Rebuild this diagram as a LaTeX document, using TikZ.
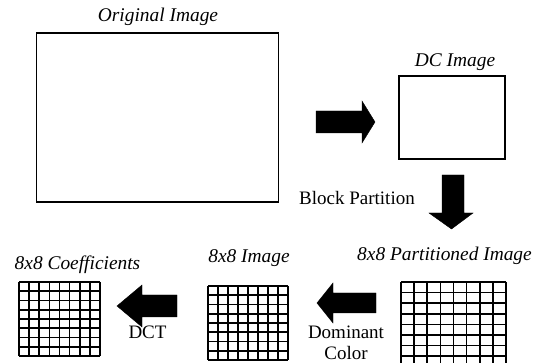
\documentclass[tikz,border=0pt]{standalone}
\usepackage{fontspec}
\setmainfont{Liberation Serif}
\usetikzlibrary{calc}
\begin{document}
\begin{tikzpicture}[x=1pt,y=-1pt,
  lbl/.style={font=\fontsize{19.4}{22}\selectfont\itshape, inner sep=0pt, anchor=center},
  plain/.style={font=\fontsize{19}{22}\selectfont, inner sep=0pt, anchor=center},
  box/.style={draw, line width=1.2pt, inner sep=0pt},
  gridline/.style={line width=1.7pt},
  blockarrow/.style={fill=black, draw=black, line width=0.4pt, line join=miter}]
\useasboundingbox (0,0) rectangle (533,363);
\clip (0,0) rectangle (533,363);
% boxes
\node[box, minimum width=242pt, minimum height=169pt] (orig) at (157.5,117.5) {};
\node[lbl] (origt) at (158,17) {Original Image};
\node[box, minimum width=106pt, minimum height=83pt] (dc) at (452,117.5) {};
\node[lbl] (dct) at (455,62) {DC Image};
% right arrow
\draw[blockarrow] (316,111) -- (362,111) -- (362,101) -- (375,122) -- (362,143) -- (362,133) -- (316,133) -- cycle;
% down arrow
\draw[blockarrow] (442,175) -- (464,175) -- (464,213) -- (473,213) -- (451.5,229) -- (429,213) -- (442,213) -- cycle;
\node[plain] (bp) at (357,198) {Block Partition};
% partitioned grid
\node[lbl] (pt) at (444.5,256) {8x8 Partitioned Image};
\coordinate (pg) at (401,282);
\foreach \i in {0,...,8} {
  \draw[gridline] ($(pg)+(\i*13.125,0)$) -- ($(pg)+(\i*13.125,84.8)$);
  \draw[gridline] ($(pg)+(0,\i*10.6)$) -- ($(pg)+(105,\i*10.6)$);
}
% dominant color arrow
\draw[blockarrow] (376,293) -- (333,293) -- (333,283) -- (317,303) -- (333,323) -- (333,313) -- (376,313) -- cycle;
\node[plain, align=center] (dom) at (346,342.5) {Dominant\\[-1pt]Color};
% 8x8 image grid
\node[lbl] (imt) at (249,258) {8x8 Image};
\coordinate (ig) at (208,286);
\foreach \i in {0,...,8} {
  \draw[gridline] ($(ig)+(\i*10,0)$) -- ($(ig)+(\i*10,74)$);
  \draw[gridline] ($(ig)+(0,\i*9.25)$) -- ($(ig)+(80,\i*9.25)$);
}
% DCT arrow
\draw[blockarrow] (177,295) -- (142,295) -- (142,285) -- (117,306) -- (142,327) -- (142,317) -- (177,317) -- cycle;
\node[plain] (dctl) at (147.5,332) {DCT};
% coefficients grid
\node[lbl] (cot) at (77.5,265) {8x8 Coefficients};
\coordinate (cg) at (19,282);
\foreach \i in {0,...,8} {
  \draw[gridline] ($(cg)+(\i*10.125,0)$) -- ($(cg)+(\i*10.125,74)$);
  \draw[gridline] ($(cg)+(0,\i*9.25)$) -- ($(cg)+(81,\i*9.25)$);
}
\end{tikzpicture}
\end{document}
